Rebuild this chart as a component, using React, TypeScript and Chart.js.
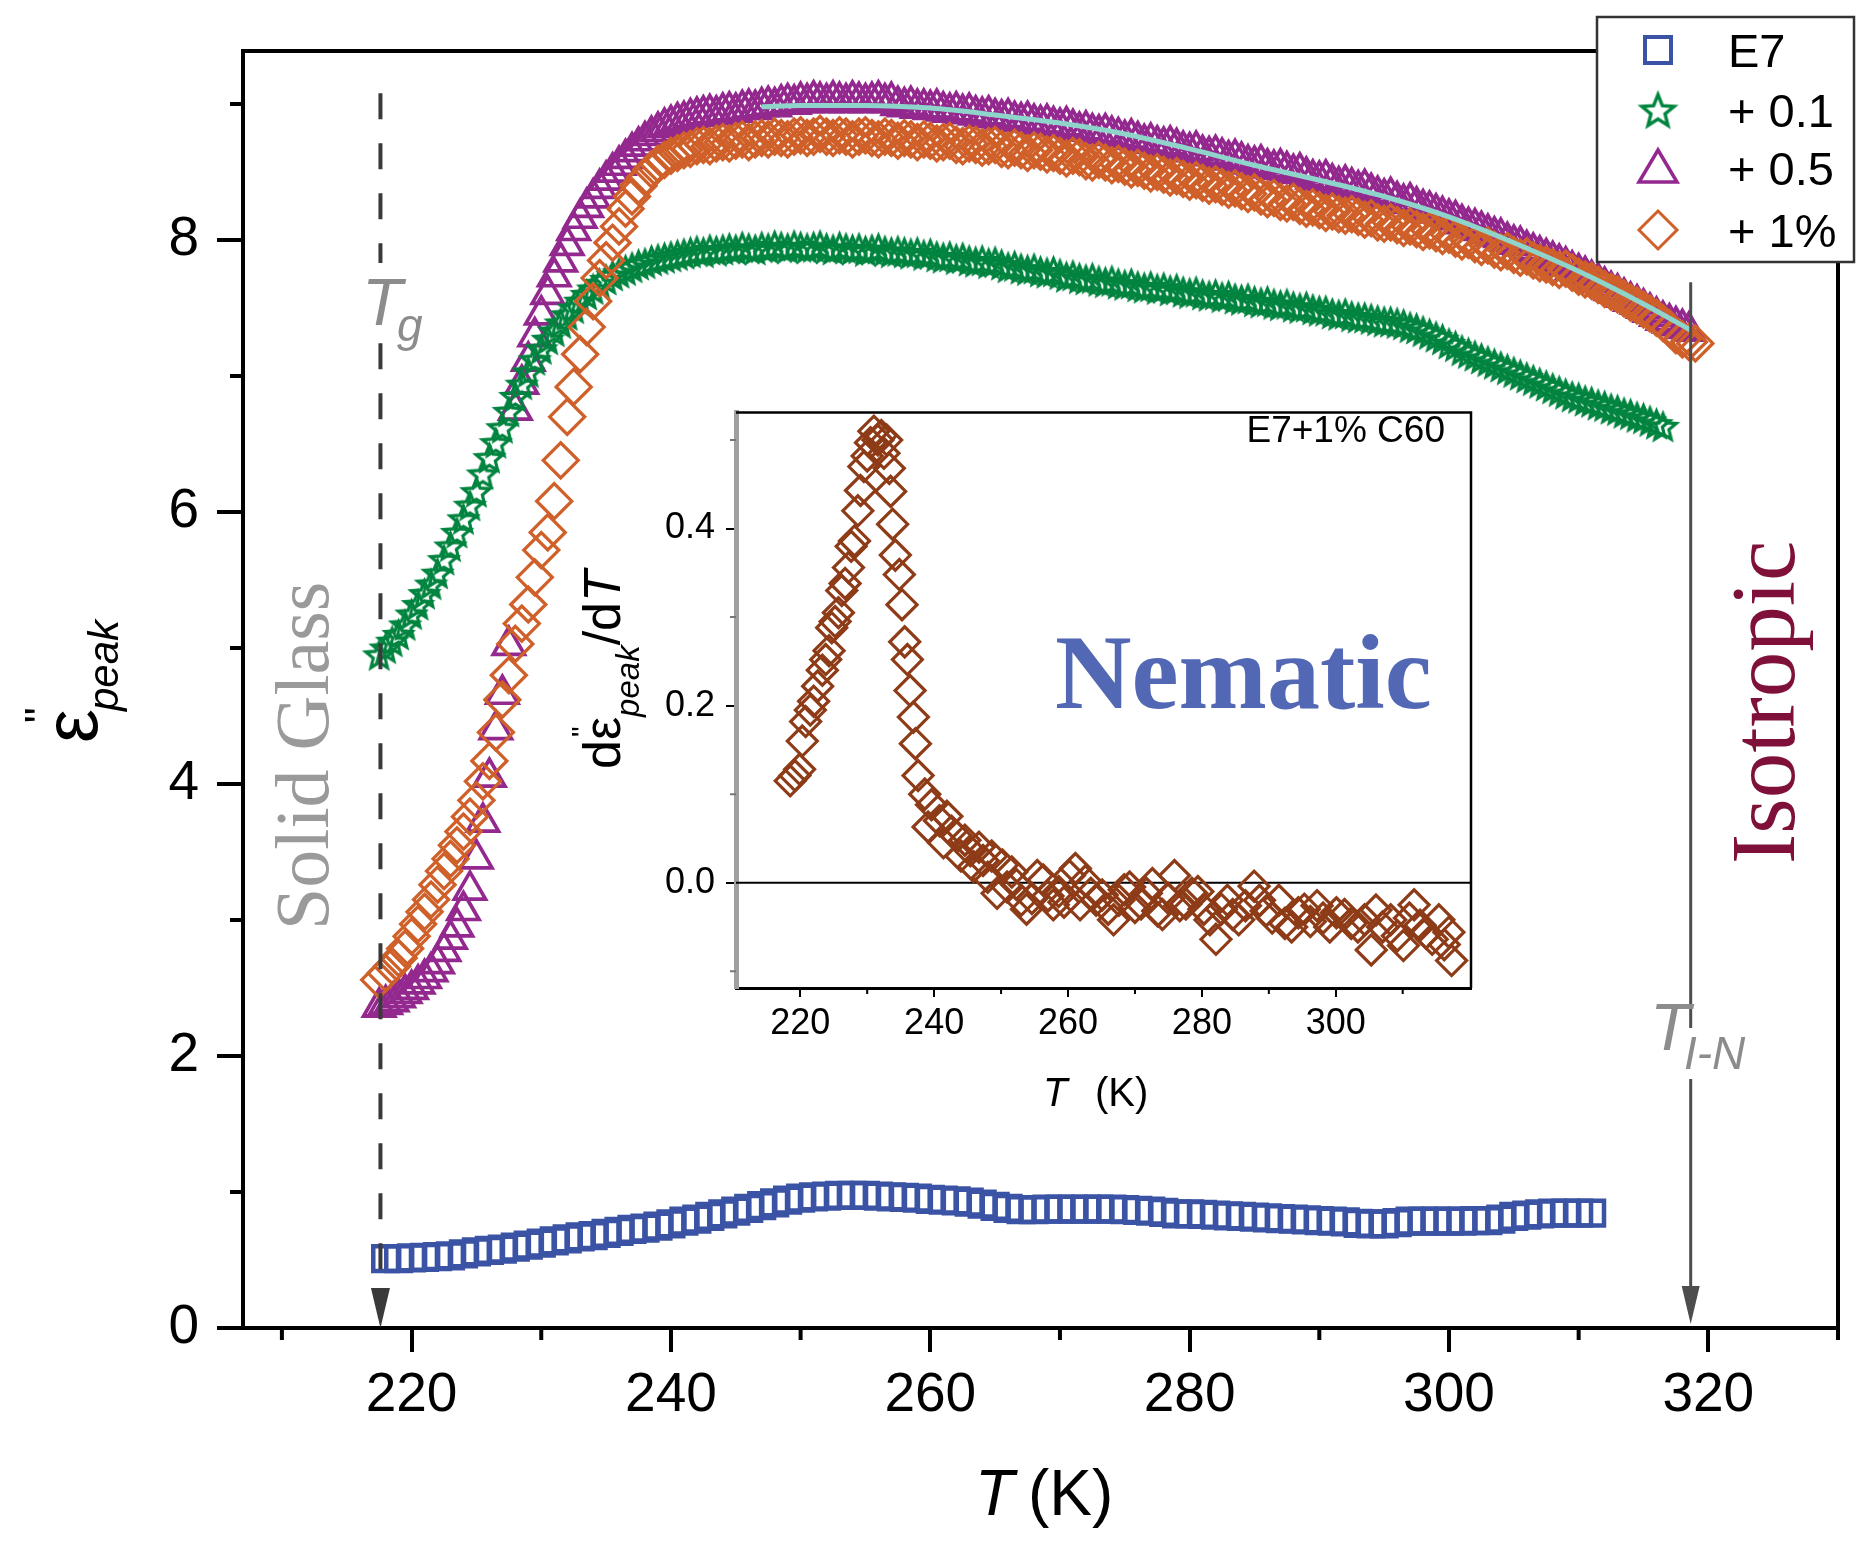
import React, { useEffect, useRef } from 'react';
import { Chart, registerables } from 'chart.js';

Chart.register(...registerables);

// Temperature grid (K) shared by the three doped samples, 0.5 K steps
const tempGrid = [
  217.5, 218, 218.5, 219, 219.5, 220, 220.5, 221, 221.5, 222,
  222.5, 223, 223.5, 224, 224.5, 225, 225.5, 226, 226.5, 227,
  227.5, 228, 228.5, 229, 229.5, 230, 230.5, 231, 231.5, 232,
  232.5, 233, 233.5, 234, 234.5, 235, 235.5, 236, 236.5, 237,
  237.5, 238, 238.5, 239, 239.5, 240, 240.5, 241, 241.5, 242,
  242.5, 243, 243.5, 244, 244.5, 245, 245.5, 246, 246.5, 247,
  247.5, 248, 248.5, 249, 249.5, 250, 250.5, 251, 251.5, 252,
  252.5, 253, 253.5, 254, 254.5, 255, 255.5, 256, 256.5, 257,
  257.5, 258, 258.5, 259, 259.5, 260, 260.5, 261, 261.5, 262,
  262.5, 263, 263.5, 264, 264.5, 265, 265.5, 266, 266.5, 267,
  267.5, 268, 268.5, 269, 269.5, 270, 270.5, 271, 271.5, 272,
  272.5, 273, 273.5, 274, 274.5, 275, 275.5, 276, 276.5, 277,
  277.5, 278, 278.5, 279, 279.5, 280, 280.5, 281, 281.5, 282,
  282.5, 283, 283.5, 284, 284.5, 285, 285.5, 286, 286.5, 287,
  287.5, 288, 288.5, 289, 289.5, 290, 290.5, 291, 291.5, 292,
  292.5, 293, 293.5, 294, 294.5, 295, 295.5, 296, 296.5, 297,
  297.5, 298, 298.5, 299, 299.5, 300, 300.5, 301, 301.5, 302,
  302.5, 303, 303.5, 304, 304.5, 305, 305.5, 306, 306.5, 307,
  307.5, 308, 308.5, 309, 309.5, 310, 310.5, 311, 311.5, 312,
  312.5, 313, 313.5, 314, 314.5, 315, 315.5, 316, 316.5, 317,
  317.5, 318, 318.5, 319,
];

// E7 + 0.1 % C60 (stars)
const plus01Values = [
  4.95, 5.00, 5.05, 5.10, 5.17, 5.25, 5.32, 5.40, 5.47, 5.55,
  5.65, 5.75, 5.85, 5.95, 6.05, 6.15, 6.28, 6.40, 6.51, 6.62,
  6.74, 6.85, 6.94, 7.03, 7.12, 7.20, 7.27, 7.33, 7.39, 7.45,
  7.50, 7.55, 7.60, 7.64, 7.68, 7.71, 7.74, 7.76, 7.78, 7.80,
  7.82, 7.83, 7.85, 7.86, 7.87, 7.88, 7.89, 7.90, 7.91, 7.92,
  7.91, 7.93, 7.92, 7.93, 7.94, 7.93, 7.95, 7.94, 7.93, 7.95,
  7.94, 7.96, 7.95, 7.94, 7.96, 7.95, 7.94, 7.95, 7.96, 7.94,
  7.93, 7.95, 7.94, 7.93, 7.94, 7.92, 7.93, 7.94, 7.92, 7.91,
  7.92, 7.91, 7.90, 7.91, 7.89, 7.90, 7.88, 7.87, 7.88, 7.86,
  7.87, 7.85, 7.84, 7.85, 7.83, 7.84, 7.82, 7.80, 7.81, 7.79,
  7.78, 7.79, 7.77, 7.76, 7.77, 7.75, 7.73, 7.74, 7.72, 7.71,
  7.72, 7.70, 7.69, 7.70, 7.68, 7.67, 7.68, 7.66, 7.65, 7.66,
  7.64, 7.65, 7.63, 7.64, 7.62, 7.61, 7.62, 7.60, 7.59, 7.60,
  7.58, 7.59, 7.57, 7.56, 7.57, 7.55, 7.54, 7.55, 7.53, 7.52,
  7.53, 7.51, 7.50, 7.51, 7.49, 7.48, 7.48, 7.46, 7.45, 7.46,
  7.44, 7.43, 7.43, 7.42, 7.41, 7.40, 7.40, 7.39, 7.38, 7.36,
  7.35, 7.33, 7.31, 7.29, 7.27, 7.24, 7.22, 7.19, 7.17, 7.15,
  7.13, 7.11, 7.09, 7.07, 7.05, 7.03, 7.01, 6.99, 6.97, 6.95,
  6.93, 6.91, 6.89, 6.87, 6.85, 6.84, 6.82, 6.81, 6.79, 6.78,
  6.76, 6.75, 6.73, 6.72, 6.70, 6.69, 6.67, 6.65, 6.63,
];

// E7 + 0.5 % C60 (triangles)
const plus05Values = [
  2.36, 2.38, 2.40, 2.43, 2.46, 2.49, 2.53, 2.57, 2.62, 2.68,
  2.77, 2.86, 2.95, 3.07, 3.22, 3.45, 3.72, 4.05, 4.40, 4.66,
  5.02, 6.75, 6.94, 7.11, 7.29, 7.45, 7.60, 7.73, 7.84, 7.96,
  8.07, 8.16, 8.24, 8.31, 8.38, 8.44, 8.50, 8.55, 8.60, 8.65,
  8.69, 8.73, 8.77, 8.80, 8.83, 8.85, 8.87, 8.88, 8.90, 8.91,
  8.92, 8.93, 8.92, 8.94, 8.95, 8.94, 8.96, 8.97, 8.96, 8.98,
  8.99, 8.98, 9.00, 9.01, 9.00, 9.02, 9.01, 9.03, 9.02, 9.01,
  9.03, 9.02, 9.01, 9.03, 9.02, 9.01, 9.02, 9.03, 9.01, 9.02,
  8.99, 8.98, 8.99, 8.97, 8.97, 8.96, 8.97, 8.95, 8.94, 8.95,
  8.93, 8.94, 8.92, 8.91, 8.92, 8.90, 8.89, 8.90, 8.88, 8.87,
  8.88, 8.86, 8.85, 8.86, 8.84, 8.83, 8.84, 8.82, 8.80, 8.81,
  8.79, 8.78, 8.79, 8.77, 8.76, 8.74, 8.75, 8.73, 8.71, 8.72,
  8.70, 8.69, 8.70, 8.68, 8.66, 8.65, 8.66, 8.63, 8.62, 8.63,
  8.61, 8.59, 8.60, 8.58, 8.56, 8.55, 8.56, 8.53, 8.52, 8.53,
  8.51, 8.49, 8.50, 8.47, 8.45, 8.44, 8.45, 8.42, 8.40, 8.41,
  8.39, 8.37, 8.38, 8.35, 8.33, 8.31, 8.32, 8.29, 8.27, 8.28,
  8.25, 8.23, 8.22, 8.20, 8.18, 8.16, 8.15, 8.12, 8.10, 8.09,
  8.07, 8.05, 8.03, 8.02, 7.99, 7.97, 7.96, 7.93, 7.91, 7.89,
  7.87, 7.85, 7.83, 7.81, 7.78, 7.76, 7.74, 7.71, 7.69, 7.66,
  7.63, 7.61, 7.58, 7.55, 7.53, 7.50, 7.47, 7.44, 7.41, 7.39,
  7.37, 7.35, 7.33,
];

// E7 + 1 % C60 (diamonds)
const plus1Values = [
  2.56, 2.61, 2.66, 2.72, 2.79, 2.88, 2.97, 3.06, 3.15, 3.26,
  3.36, 3.45, 3.55, 3.65, 3.76, 3.88, 4.02, 4.17, 4.38, 4.62,
  4.80, 5.03, 5.18, 5.32, 5.52, 5.72, 5.85, 6.08, 6.38, 6.70,
  6.92, 7.16, 7.36, 7.55, 7.72, 7.85, 7.98, 8.10, 8.23, 8.32,
  8.40, 8.46, 8.52, 8.56, 8.59, 8.62, 8.64, 8.66, 8.67, 8.69,
  8.70, 8.69, 8.71, 8.72, 8.71, 8.73, 8.74, 8.72, 8.74, 8.75,
  8.74, 8.76, 8.75, 8.74, 8.76, 8.77, 8.75, 8.76, 8.78, 8.76,
  8.75, 8.77, 8.76, 8.74, 8.76, 8.77, 8.75, 8.74, 8.76, 8.75,
  8.73, 8.75, 8.74, 8.72, 8.74, 8.73, 8.71, 8.72, 8.73, 8.70,
  8.69, 8.71, 8.70, 8.68, 8.69, 8.70, 8.67, 8.66, 8.68, 8.66,
  8.64, 8.66, 8.65, 8.63, 8.64, 8.62, 8.60, 8.62, 8.61, 8.58,
  8.57, 8.59, 8.57, 8.55, 8.56, 8.54, 8.52, 8.53, 8.51, 8.49,
  8.50, 8.48, 8.46, 8.47, 8.45, 8.43, 8.44, 8.42, 8.40, 8.41,
  8.39, 8.37, 8.38, 8.36, 8.34, 8.35, 8.32, 8.30, 8.31, 8.28,
  8.27, 8.28, 8.25, 8.23, 8.24, 8.22, 8.20, 8.21, 8.19, 8.18,
  8.19, 8.17, 8.15, 8.16, 8.13, 8.12, 8.13, 8.11, 8.09, 8.10,
  8.08, 8.06, 8.07, 8.05, 8.03, 8.04, 8.01, 7.99, 8.00, 7.97,
  7.95, 7.96, 7.93, 7.91, 7.92, 7.89, 7.87, 7.88, 7.85, 7.83,
  7.82, 7.80, 7.78, 7.79, 7.76, 7.73, 7.71, 7.70, 7.67, 7.64,
  7.62, 7.60, 7.57, 7.54, 7.52, 7.49, 7.46, 7.43, 7.39, 7.35,
  7.30, 7.27, 7.25, 7.24,
];

// Pure E7 (squares), 1 K steps
const e7Temps = [
  218, 219, 220, 221, 222, 223, 224, 225, 226, 227,
  228, 229, 230, 231, 232, 233, 234, 235, 236, 237,
  238, 239, 240, 241, 242, 243, 244, 245, 246, 247,
  248, 249, 250, 251, 252, 253, 254, 255, 256, 257,
  258, 259, 260, 261, 262, 263, 264, 265, 266, 267,
  268, 269, 270, 271, 272, 273, 274, 275, 276, 277,
  278, 279, 280, 281, 282, 283, 284, 285, 286, 287,
  288, 289, 290, 291, 292, 293, 294, 295, 296, 297,
  298, 299, 300, 301, 302, 303, 304, 305, 306, 307,
  308, 309, 310, 311,
];
const e7Values = [
  0.51, 0.51, 0.515, 0.52, 0.525, 0.53, 0.545, 0.56, 0.57, 0.58,
  0.595, 0.61, 0.625, 0.64, 0.655, 0.67, 0.68, 0.695, 0.71, 0.725,
  0.735, 0.75, 0.765, 0.785, 0.80, 0.82, 0.84, 0.86, 0.88, 0.90,
  0.92, 0.94, 0.955, 0.965, 0.97, 0.975, 0.975, 0.975, 0.97, 0.965,
  0.96, 0.955, 0.945, 0.94, 0.935, 0.925, 0.91, 0.895, 0.88, 0.87,
  0.87, 0.875, 0.875, 0.875, 0.875, 0.875, 0.875, 0.87, 0.865, 0.86,
  0.85, 0.84, 0.84, 0.835, 0.83, 0.825, 0.82, 0.815, 0.81, 0.805,
  0.80, 0.795, 0.79, 0.785, 0.78, 0.77, 0.765, 0.765, 0.775, 0.785,
  0.785, 0.785, 0.785, 0.785, 0.79, 0.79, 0.80, 0.82, 0.83, 0.84,
  0.845, 0.845, 0.845, 0.845,
];

// Smooth fit through the nematic plateau of the doped samples
const fitTemps = [247, 250, 255, 260, 265, 270, 275, 280, 285, 290, 295, 300, 305, 310, 315, 318.6];
const fitValues = [8.98, 8.99, 8.99, 8.97, 8.92, 8.86, 8.78, 8.67, 8.55, 8.44, 8.32, 8.17, 7.98, 7.77, 7.53, 7.34];

// Inset: temperature derivative for E7 + 1 % C60
const insetTemps = [
  218.5, 219.2, 219.9, 220.3, 220.8, 221.5, 222.0, 222.6, 223.3, 223.8,
  224.3, 224.7, 225.2, 225.7, 226.2, 226.7, 227.2, 227.6, 228.1, 228.6,
  229.0, 229.5, 230.0, 230.5, 231.0, 231.6, 232.1, 232.5, 232.9, 233.3,
  233.5, 233.8, 234.2, 234.8, 235.2, 235.6, 236.0, 236.4, 236.9, 237.2,
  237.6, 238.6, 239.1, 239.6, 240.8, 241.4, 241.9, 242.6, 243.4, 244.0,
  244.6, 245.4, 245.9, 246.7, 247.3, 248.0, 248.6, 249.4, 250.2, 250.9,
  251.6, 252.3, 253.0, 253.8, 254.6, 255.4, 256.3, 257.0, 257.8, 258.6,
  259.4, 260.2, 261.1, 261.8, 262.6, 263.4, 264.2, 265.1, 266.0, 266.8,
  267.6, 268.4, 269.2, 270.0, 270.9, 271.7, 272.6, 273.4, 274.1, 275.0,
  275.9, 276.7, 277.6, 278.5, 279.4, 280.3, 281.2, 282.1, 282.9, 283.8,
  284.6, 285.5, 286.5, 287.8, 288.6, 289.6, 290.5, 291.5, 292.4, 293.4,
  294.4, 295.3, 296.2, 297.2, 298.1, 299.1, 300.1, 301.3, 302.3, 303.3,
  304.3, 305.3, 306.0, 307.0, 308.2, 309.2, 310.1, 311.0, 311.7, 312.6,
  313.5, 314.4, 315.4, 316.2, 316.9, 317.3,
];
const insetValues = [
  0.115, 0.121, 0.128, 0.160, 0.182, 0.195, 0.205, 0.222, 0.240, 0.252,
  0.262, 0.288, 0.295, 0.305, 0.330, 0.338, 0.356, 0.380, 0.386, 0.420,
  0.443, 0.470, 0.482, 0.497, 0.510, 0.500, 0.505, 0.485, 0.500, 0.468,
  0.442, 0.405, 0.370, 0.348, 0.314, 0.272, 0.252, 0.217, 0.187, 0.157,
  0.121, 0.100, 0.063, 0.088, 0.070, 0.045, 0.075, 0.058, 0.052, 0.030,
  0.048, 0.036, 0.018, 0.040, 0.025, 0.006, 0.030, -0.012, 0.020, -0.005,
  0.012, -0.002, -0.020, -0.030, -0.018, 0.008, 0.003, -0.015, -0.025, -0.010,
  -0.022, 0.008, 0.016, -0.025, 0.002, -0.012, -0.020, -0.014, -0.030, -0.042,
  -0.020, -0.008, -0.005, -0.028, -0.024, -0.012, -0.001, -0.032, -0.036, -0.018,
  0.008, -0.026, -0.024, -0.012, -0.010, -0.030, -0.042, -0.064, -0.030, -0.020,
  -0.036, -0.042, -0.026, -0.004, -0.020, -0.032, -0.040, -0.020, -0.046, -0.050,
  -0.034, -0.030, -0.044, -0.026, -0.040, -0.050, -0.034, -0.036, -0.046, -0.050,
  -0.042, -0.076, -0.031, -0.050, -0.042, -0.060, -0.071, -0.040, -0.025, -0.048,
  -0.057, -0.064, -0.042, -0.070, -0.056, -0.088,
];

const mainXTicks = [220, 240, 260, 280, 300, 320];
const mainXMinor = [210, 230, 250, 270, 290, 310, 330];
const mainYTicks = [0, 2, 4, 6, 8];
const mainYMinor = [1, 3, 5, 7, 9];
const insetXTicks = [220, 240, 260, 280, 300];
const insetXMinor = [230, 250, 270, 290, 310];
const insetYTicks = [0, 0.2, 0.4];
const insetYMinor = [-0.1, 0.1, 0.3, 0.5];
const legendLabels = ['E7', '+ 0.1', '+ 0.5', '+ 1%'];

const T_GLASS = 217.6;
const T_IN = 318.64;

const BLUE = '#3a53a4';
const GREEN = '#00843f';
const PURPLE = '#93288e';
const ORANGE = '#d0602a';
const TEAL = '#8fd4cb';
const BROWN = '#8e3b17';
const SANS = "'Liberation Sans', Arial, sans-serif";
const SERIF = "'Liberation Serif', 'Times New Roman', serif";

const W = 1876;
const H = 1561;
const INSET_LEFT = 560;
const INSET_TOP = 380;
const INSET_W = 930;
const INSET_H = 760;

function pairs(xs: number[], ys: number[]) {
  return ys.map((v, i) => ({ x: xs[i], y: v }));
}

// Five-pointed open star used as a point marker
function makeStar(outer: number, inner: number, lw: number, color: string) {
  const size = Math.ceil(2 * outer + 2 * lw + 2);
  const c = document.createElement('canvas');
  c.width = size;
  c.height = size;
  const g = c.getContext('2d') as CanvasRenderingContext2D;
  g.translate(size / 2, size / 2 + outer * 0.1);
  g.beginPath();
  for (let k = 0; k < 10; k++) {
    const r = k % 2 === 0 ? outer : inner;
    const a = -Math.PI / 2 + (k * Math.PI) / 5;
    if (k === 0) g.moveTo(Math.cos(a) * r, Math.sin(a) * r);
    else g.lineTo(Math.cos(a) * r, Math.sin(a) * r);
  }
  g.closePath();
  g.lineJoin = 'miter';
  g.lineWidth = lw;
  g.strokeStyle = color;
  g.stroke();
  return c;
}

function arrowHead(ctx: CanvasRenderingContext2D, x: number, tipY: number, halfW: number, len: number, color: string) {
  ctx.beginPath();
  ctx.moveTo(x, tipY);
  ctx.lineTo(x - halfW, tipY - len);
  ctx.lineTo(x + halfW, tipY - len);
  ctx.closePath();
  ctx.fillStyle = color;
  ctx.fill();
}

export default function App() {
  const mainRef = useRef<HTMLCanvasElement | null>(null);
  const insetRef = useRef<HTMLCanvasElement | null>(null);

  useEffect(() => {
    if (!mainRef.current || !insetRef.current) return;

    const plotStar = makeStar(14, 6.2, 3.2, GREEN);
    const legendStar = makeStar(17, 7.4, 3.4, GREEN);

    const mainDecor = {
      id: 'mainDecor',
      afterDatasetsDraw(chart: any) {
        const { ctx, scales } = chart;
        const x = scales.x;
        const y = scales.y;
        const yBase = y.getPixelForValue(0);
        ctx.save();

        // glass transition marker
        const xg = x.getPixelForValue(T_GLASS);
        ctx.strokeStyle = '#3a3a3a';
        ctx.lineWidth = 4;
        ctx.setLineDash([26, 24]);
        ctx.beginPath();
        ctx.moveTo(xg, y.getPixelForValue(9.08));
        ctx.lineTo(xg, yBase - 30);
        ctx.stroke();
        ctx.setLineDash([]);
        arrowHead(ctx, xg, yBase, 9.5, 40, '#3a3a3a');
        ctx.fillStyle = '#fff';
        ctx.fillRect(xg - 8, 263, 16, 77);
        ctx.fillStyle = '#8c8c8c';
        ctx.textAlign = 'left';
        ctx.textBaseline = 'alphabetic';
        ctx.font = `italic 66px ${SANS}`;
        ctx.fillText('T', 362, 325);
        ctx.font = `italic 46px ${SANS}`;
        ctx.fillText('g', 397, 341);

        // isotropic-nematic transition marker
        const xt = x.getPixelForValue(T_IN);
        ctx.strokeStyle = '#4d4d4d';
        ctx.lineWidth = 3;
        ctx.beginPath();
        ctx.moveTo(xt, y.getPixelForValue(7.69));
        ctx.lineTo(xt, yBase - 36);
        ctx.stroke();
        arrowHead(ctx, xt, yBase - 4, 9, 38, '#4d4d4d');
        ctx.fillStyle = '#fff';
        ctx.fillRect(xt - 6, 1028, 12, 51);
        ctx.fillStyle = '#8c8c8c';
        ctx.font = `italic 66px ${SANS}`;
        ctx.fillText('T', 1650, 1050);
        ctx.font = `italic 46px ${SANS}`;
        ctx.fillText('I-N', 1684, 1069);

        // phase labels
        ctx.save();
        ctx.translate(328, 930);
        ctx.rotate(-Math.PI / 2);
        ctx.fillStyle = '#9a9a9a';
        ctx.font = `76px ${SERIF}`;
        ctx.fillText('Solid Glass', 0, 0);
        ctx.restore();

        ctx.save();
        ctx.translate(1794, 864);
        ctx.rotate(-Math.PI / 2);
        ctx.fillStyle = '#7e1039';
        ctx.font = `91px ${SERIF}`;
        ctx.fillText('Isotropic', 0, 0);
        ctx.restore();

        ctx.restore();
      },
      afterDraw(chart: any) {
        const { ctx, chartArea: a, scales } = chart;
        const x = scales.x;
        const y = scales.y;
        ctx.save();

        // closing frame
        ctx.strokeStyle = '#000';
        ctx.lineWidth = 4;
        ctx.beginPath();
        ctx.moveTo(a.left, a.top);
        ctx.lineTo(a.right, a.top);
        ctx.lineTo(a.right, a.bottom);
        ctx.stroke();

        // minor ticks
        ctx.beginPath();
        mainXMinor.forEach((v) => {
          const px = x.getPixelForValue(v);
          ctx.moveTo(px, a.bottom);
          ctx.lineTo(px, a.bottom + 12);
        });
        mainYMinor.forEach((v) => {
          const py = y.getPixelForValue(v);
          ctx.moveTo(a.left, py);
          ctx.lineTo(a.left - 13, py);
        });
        ctx.stroke();

        // axis titles
        ctx.fillStyle = '#000';
        ctx.textAlign = 'left';
        ctx.textBaseline = 'alphabetic';
        ctx.font = `italic 64px ${SANS}`;
        ctx.fillText('T', 975, 1515);
        ctx.font = `64px ${SANS}`;
        ctx.fillText('(K)', 1028, 1515);

        ctx.save();
        ctx.translate(97, 743);
        ctx.rotate(-Math.PI / 2);
        ctx.font = `76px ${SANS}`;
        ctx.fillText('ε', 0, 0);
        ctx.font = `44px ${SANS}`;
        ctx.fillText('"', 20, -41);
        ctx.font = `italic 42px ${SANS}`;
        ctx.fillText('peak', 32, 21);
        ctx.restore();

        // legend
        ctx.fillStyle = '#fff';
        ctx.fillRect(1597, 17, 257, 245);
        ctx.strokeStyle = '#333';
        ctx.lineWidth = 2.5;
        ctx.strokeRect(1597, 17, 257, 245);
        const lx = 1658;
        const rows = [50, 110, 168, 230];
        ctx.strokeStyle = BLUE;
        ctx.lineWidth = 4;
        ctx.strokeRect(lx - 13, rows[0] - 13, 26, 26);
        ctx.drawImage(legendStar, lx - legendStar.width / 2, rows[1] - legendStar.height / 2);
        ctx.strokeStyle = PURPLE;
        ctx.lineWidth = 3.5;
        ctx.beginPath();
        ctx.moveTo(lx, rows[2] - 18);
        ctx.lineTo(lx + 19, rows[2] + 14);
        ctx.lineTo(lx - 19, rows[2] + 14);
        ctx.closePath();
        ctx.stroke();
        ctx.strokeStyle = ORANGE;
        ctx.lineWidth = 3;
        ctx.beginPath();
        ctx.moveTo(lx, rows[3] - 19);
        ctx.lineTo(lx + 19, rows[3]);
        ctx.lineTo(lx, rows[3] + 19);
        ctx.lineTo(lx - 19, rows[3]);
        ctx.closePath();
        ctx.stroke();
        ctx.fillStyle = '#000';
        ctx.font = `47px ${SANS}`;
        legendLabels.forEach((t, i) => ctx.fillText(t, 1728, rows[i] + 17));

        ctx.restore();
      },
    };

    const mainChart = new Chart(mainRef.current, {
      type: 'scatter',
      data: {
        datasets: [
          {
            type: 'line',
            label: 'fit',
            data: pairs(fitTemps, fitValues),
            showLine: true,
            borderColor: TEAL,
            borderWidth: 5,
            pointRadius: 0,
            cubicInterpolationMode: 'monotone',
            order: 0,
          } as any,
          {
            label: '+ 1%',
            data: pairs(tempGrid, plus1Values),
            pointStyle: 'rectRot',
            pointRadius: 17.5,
            borderWidth: 3.3,
            borderColor: ORANGE,
            backgroundColor: 'rgba(0,0,0,0)',
            order: 1,
          },
          {
            label: '+ 0.1',
            data: pairs(tempGrid, plus01Values),
            pointStyle: plotStar as any,
            pointRadius: 14,
            borderColor: GREEN,
            backgroundColor: 'rgba(0,0,0,0)',
            order: 2,
          },
          {
            label: '+ 0.5',
            data: pairs(tempGrid, plus05Values),
            pointStyle: 'triangle',
            pointRadius: 18,
            borderWidth: 3.7,
            borderColor: PURPLE,
            backgroundColor: 'rgba(0,0,0,0)',
            order: 3,
          },
          {
            label: 'E7',
            data: pairs(e7Temps, e7Values),
            pointStyle: 'rect',
            pointRadius: 17.5,
            borderWidth: 4.5,
            borderColor: BLUE,
            backgroundColor: 'rgba(0,0,0,0)',
            order: 4,
          },
        ],
      },
      options: {
        animation: false,
        responsive: false,
        devicePixelRatio: 1,
        events: [],
        layout: { padding: { left: 0, top: 45, right: 38, bottom: 0 } },
        plugins: { legend: { display: false }, tooltip: { enabled: false } },
        scales: {
          x: {
            type: 'linear',
            min: 207,
            max: 330,
            afterBuildTicks: (s: any) => {
              s.ticks = mainXTicks.map((v) => ({ value: v }));
            },
            afterFit: (s: any) => {
              s.height = 233;
            },
            grid: { display: true, drawOnChartArea: false, drawTicks: true, tickLength: 24, lineWidth: 4, color: '#000' },
            border: { display: true, width: 4, color: '#000' },
            ticks: { font: { family: SANS, size: 55 }, color: '#000', padding: 11, autoSkip: false, maxRotation: 0, minRotation: 0 },
          },
          y: {
            type: 'linear',
            min: 0,
            max: 9.39,
            afterBuildTicks: (s: any) => {
              s.ticks = mainYTicks.map((v) => ({ value: v }));
            },
            afterFit: (s: any) => {
              s.width = 243;
            },
            grid: { display: true, drawOnChartArea: false, drawTicks: true, tickLength: 26, lineWidth: 4, color: '#000' },
            border: { display: true, width: 4, color: '#000' },
            ticks: { font: { family: SANS, size: 55 }, color: '#000', padding: 18, autoSkip: false },
          },
        },
      },
      plugins: [mainDecor],
    });

    const insetDecor = {
      id: 'insetDecor',
      beforeDraw(chart: any) {
        const { ctx, chartArea: a } = chart;
        ctx.save();
        ctx.fillStyle = '#fff';
        ctx.fillRect(a.left, a.top, a.right - a.left, a.bottom - a.top);
        ctx.restore();
      },
      beforeDatasetsDraw(chart: any) {
        const { ctx, chartArea: a, scales } = chart;
        const y0 = scales.y.getPixelForValue(0);
        ctx.save();
        ctx.strokeStyle = '#000';
        ctx.lineWidth = 2;
        ctx.beginPath();
        ctx.moveTo(a.left, y0);
        ctx.lineTo(a.right, y0);
        ctx.stroke();
        ctx.restore();
      },
      afterDraw(chart: any) {
        const { ctx, chartArea: a, scales } = chart;
        const x = scales.x;
        const y = scales.y;
        ctx.save();
        ctx.strokeStyle = '#000';
        ctx.lineWidth = 2.5;
        ctx.beginPath();
        ctx.moveTo(a.left, a.top);
        ctx.lineTo(a.right, a.top);
        ctx.lineTo(a.right, a.bottom);
        ctx.stroke();

        ctx.lineWidth = 2;
        ctx.beginPath();
        insetXMinor.forEach((v) => {
          const px = x.getPixelForValue(v);
          ctx.moveTo(px, a.bottom);
          ctx.lineTo(px, a.bottom + 6);
        });
        ctx.stroke();
        ctx.strokeStyle = '#777';
        ctx.beginPath();
        insetYMinor.forEach((v) => {
          const py = y.getPixelForValue(v);
          ctx.moveTo(a.left, py);
          ctx.lineTo(a.left - 6, py);
        });
        ctx.stroke();

        ctx.fillStyle = '#000';
        ctx.textBaseline = 'alphabetic';
        ctx.textAlign = 'right';
        ctx.font = `37px ${SANS}`;
        ctx.fillText('E7+1% C60', 885, 62);

        ctx.textAlign = 'left';
        ctx.font = `italic 40px ${SANS}`;
        ctx.fillText('T', 483, 726);
        ctx.font = `40px ${SANS}`;
        ctx.fillText('(K)', 535, 726);

        ctx.save();
        ctx.translate(60, 389);
        ctx.rotate(-Math.PI / 2);
        let cx = 0;
        ctx.font = `52px ${SANS}`;
        ctx.fillText('d', cx, 0);
        cx += ctx.measureText('d').width;
        ctx.fillText('ε', cx, 0);
        const epsW = ctx.measureText('ε').width;
        ctx.font = `30px ${SANS}`;
        ctx.fillText('"', cx + 3, -28);
        cx += epsW;
        ctx.font = `italic 33px ${SANS}`;
        ctx.fillText('peak', cx, 19);
        cx += ctx.measureText('peak').width;
        ctx.font = `52px ${SANS}`;
        ctx.fillText('/d', cx, 0);
        cx += ctx.measureText('/d').width;
        ctx.font = `italic 52px ${SANS}`;
        ctx.fillText('T', cx, 0);
        ctx.restore();

        ctx.fillStyle = '#5268b4';
        ctx.font = `bold 106px ${SERIF}`;
        ctx.fillText('Nematic', 495, 328);
        ctx.restore();
      },
    };

    const insetChart = new Chart(insetRef.current, {
      type: 'scatter',
      data: {
        datasets: [
          {
            label: 'dε/dT',
            data: pairs(insetTemps, insetValues),
            pointStyle: 'rectRot',
            pointRadius: 15,
            borderWidth: 3.2,
            borderColor: BROWN,
            backgroundColor: 'rgba(0,0,0,0)',
          },
        ],
      },
      options: {
        animation: false,
        responsive: false,
        devicePixelRatio: 1,
        events: [],
        layout: { padding: { left: 0, top: 19, right: 19, bottom: 0 } },
        plugins: { legend: { display: false }, tooltip: { enabled: false } },
        scales: {
          x: {
            type: 'linear',
            min: 210.4,
            max: 320.2,
            afterBuildTicks: (s: any) => {
              s.ticks = insetXTicks.map((v) => ({ value: v }));
            },
            afterFit: (s: any) => {
              s.height = 152;
            },
            grid: { display: true, drawOnChartArea: false, drawTicks: true, tickLength: 9, lineWidth: 2, color: '#000' },
            border: { display: true, width: 3, color: '#000' },
            ticks: { font: { family: SANS, size: 36 }, color: '#000', padding: 5, autoSkip: false, maxRotation: 0, minRotation: 0 },
          },
          y: {
            type: 'linear',
            min: -0.119,
            max: 0.531,
            afterBuildTicks: (s: any) => {
              s.ticks = insetYTicks.map((v) => ({ value: v }));
            },
            afterFit: (s: any) => {
              s.width = 176;
            },
            grid: { display: true, drawOnChartArea: false, drawTicks: true, tickLength: 10, lineWidth: 2, color: '#000' },
            border: { display: true, width: 5, color: '#a0a0a0' },
            ticks: {
              font: { family: SANS, size: 36 },
              color: '#000',
              padding: 11,
              autoSkip: false,
              callback: (v: any) => Number(v).toFixed(1),
            },
          },
        },
      },
      plugins: [insetDecor],
    });

    return () => {
      mainChart.destroy();
      insetChart.destroy();
    };
  }, []);

  return (
    <div style={{ position: 'fixed', left: 0, top: 0, width: W, height: H, background: '#fff', overflow: 'hidden' }}>
      <canvas ref={mainRef} width={W} height={H} style={{ position: 'absolute', left: 0, top: 0, width: W, height: H }} />
      <canvas
        ref={insetRef}
        width={INSET_W}
        height={INSET_H}
        style={{ position: 'absolute', left: INSET_LEFT, top: INSET_TOP, width: INSET_W, height: INSET_H }}
      />
    </div>
  );
}
